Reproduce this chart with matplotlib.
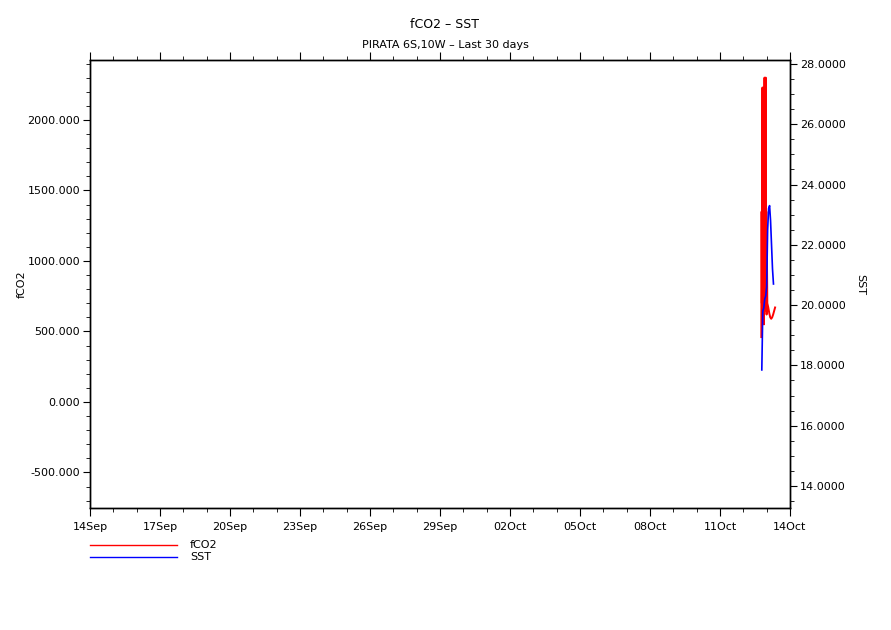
import matplotlib
matplotlib.use("Agg")
import matplotlib.pyplot as plt
import matplotlib.dates as mdates
from matplotlib.ticker import MultipleLocator, FormatStrFormatter
from matplotlib.lines import Line2D
from datetime import datetime, timedelta

# fCO2: dense 18-min record in the evening of 12 Oct, then hourly
fco2_t0 = datetime(2023, 10, 12, 18, 30)
fco2_dense = [460, 1350, 700, 1200, 2230, 600, 1400, 800, 1300, 550,
              1450, 2300, 700, 1250, 650, 2300, 900, 1350, 620, 1100]
fco2_t1 = datetime(2023, 10, 13, 0, 40)
fco2_hourly = [700, 670, 630, 600, 590, 600, 620, 645, 670]

# SST hourly from 19:00 on 12 Oct
sst_t0 = datetime(2023, 10, 12, 19, 0)
sst_vals = [17.85, 19.8, 19.9, 20.2, 20.3, 20.6, 22.5, 23.2, 23.3,
            22.8, 22.0, 21.2, 20.7]

fco2_times = [fco2_t0 + timedelta(minutes=18 * i) for i in range(len(fco2_dense))]
fco2_times += [fco2_t1 + timedelta(hours=i) for i in range(len(fco2_hourly))]
fco2_vals = fco2_dense + fco2_hourly
sst_times = [sst_t0 + timedelta(hours=i) for i in range(len(sst_vals))]

plt.rcParams['font.family'] = 'DejaVu Sans'
plt.rcParams['font.size'] = 8

fig = plt.figure(figsize=(8.91, 6.3), dpi=100)
ax = fig.add_axes([90 / 891, 1 - 508 / 630, 700 / 891, 448 / 630])
ax2 = ax.twinx()

ax.plot(fco2_times, fco2_vals, color='#ff0000', lw=1.4)
ax2.plot(sst_times, sst_vals, color='#0000ff', lw=1.2)

ax.set_xlim(datetime(2023, 9, 14), datetime(2023, 10, 14))
ax.set_ylim(-752, 2425)
ax2.set_ylim(13.27, 28.13)

ax.xaxis.set_major_locator(mdates.DayLocator(bymonthday=[14, 17, 20, 23, 26, 29, 2, 5, 8, 11]))
ax.xaxis.set_minor_locator(mdates.DayLocator())
ax.xaxis.set_major_formatter(mdates.DateFormatter('%d%b'))

ax.yaxis.set_major_locator(MultipleLocator(500))
ax.yaxis.set_minor_locator(MultipleLocator(100))
ax.yaxis.set_major_formatter(FormatStrFormatter('%.3f'))
ax2.yaxis.set_major_locator(MultipleLocator(2))
ax2.yaxis.set_minor_locator(MultipleLocator(0.5))
ax2.yaxis.set_major_formatter(FormatStrFormatter('%.4f'))

ax.tick_params(axis='x', which='both', direction='out', top=True, bottom=True, pad=4)
ax.tick_params(axis='x', which='major', length=6)
ax.tick_params(axis='x', which='minor', length=3)
ax.tick_params(axis='y', which='major', direction='out', length=5, pad=2)
ax.tick_params(axis='y', which='minor', direction='out', length=3)
ax2.tick_params(axis='y', which='major', direction='out', length=5, pad=2)
ax2.tick_params(axis='y', which='minor', direction='out', length=3)

for a in (ax, ax2):
    for s in a.spines.values():
        s.set_linewidth(1.0)

ax.set_ylabel('fCO2')
ax.yaxis.set_label_coords(-63 / 700, 0.5)
ax2.set_ylabel('SST', rotation=270, labelpad=14)

fig.text(445 / 891, 1 - 25 / 630, 'fCO2 \u2013 SST', ha='center', va='center', fontsize=9)
fig.text(445 / 891, 1 - 45 / 630, 'PIRATA 6S,10W \u2013 Last 30 days', ha='center', va='center', fontsize=8)

# legend below the plot
for yy, col, lab in [(545, '#ff0000', 'fCO2'), (557, '#0000ff', 'SST')]:
    fig.add_artist(Line2D([90 / 891, 177 / 891], [1 - yy / 630, 1 - yy / 630], color=col, lw=1.0))
    fig.text(190 / 891, 1 - yy / 630, lab, ha='left', va='center', fontsize=8)

fig.savefig('out.png', dpi=100)
